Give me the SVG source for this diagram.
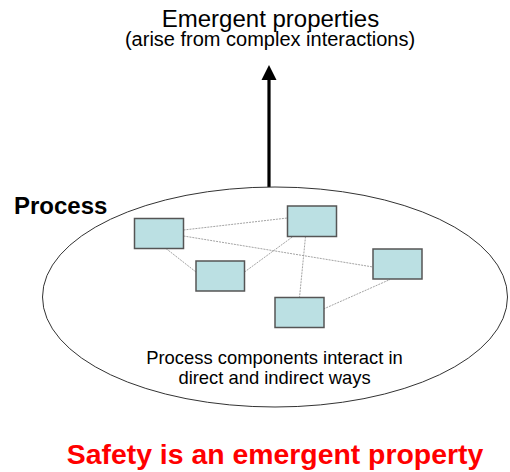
<svg xmlns="http://www.w3.org/2000/svg" width="510" height="472" viewBox="0 0 510 472">
  <style>
    .t { font-family: "Liberation Sans", Arial, sans-serif; fill: #000; }
    .box { fill: #bbe0e3; stroke: #555; stroke-width: 1.5; }
    .link { stroke: #999; stroke-width: 0.9; stroke-dasharray: 2 1; fill: none; }
  </style>
  <rect width="510" height="472" fill="#fff"/>

  <g id="title">
    <text class="t" x="270.5" y="27" font-size="24" text-anchor="middle">Emergent properties</text>
    <text class="t" x="270" y="46" font-size="20" text-anchor="middle">(arise from complex interactions)</text>
  </g>

  <g id="arrow">
    <line x1="269" y1="187" x2="269" y2="78" stroke="#000" stroke-width="3.2"/>
    <polygon points="269,65 261.5,80 276.5,80" fill="#000"/>
  </g>

  <g id="process">
    <ellipse cx="275" cy="297" rx="232.5" ry="110" fill="none" stroke="#333" stroke-width="1"/>
    <text class="t" x="14" y="214" font-size="24" font-weight="bold">Process</text>
    <text class="t" x="274.5" y="364" font-size="18.4" text-anchor="middle">Process components interact in</text>
    <text class="t" x="274.5" y="383.5" font-size="18.4" text-anchor="middle">direct and indirect ways</text>
  </g>

  <g id="connectors">
    <line class="link" x1="183.5" y1="230" x2="287.5" y2="218"/>
    <line class="link" x1="183.5" y1="236" x2="373" y2="267"/>
    <line class="link" x1="166" y1="248.5" x2="196" y2="272"/>
    <line class="link" x1="244.5" y1="272" x2="293" y2="236.5"/>
    <line class="link" x1="305.5" y1="236.5" x2="299.5" y2="297.5"/>
    <line class="link" x1="323.5" y1="309" x2="390" y2="279.5"/>
  </g>

  <g id="comp1"><rect class="box" x="134.5" y="218.5" width="49" height="30"/></g>
  <g id="comp2"><rect class="box" x="287.5" y="206" width="49" height="30.5"/></g>
  <g id="comp3"><rect class="box" x="196" y="261" width="48.5" height="30"/></g>
  <g id="comp4"><rect class="box" x="373" y="249" width="49" height="30"/></g>
  <g id="comp5"><rect class="box" x="275" y="297.5" width="49" height="30"/></g>

  <g id="caption">
    <text x="275" y="464" font-family="'Liberation Sans', Arial, sans-serif" font-size="28.4" font-weight="bold" fill="#ff0000" text-anchor="middle">Safety is an emergent property</text>
  </g>
</svg>
